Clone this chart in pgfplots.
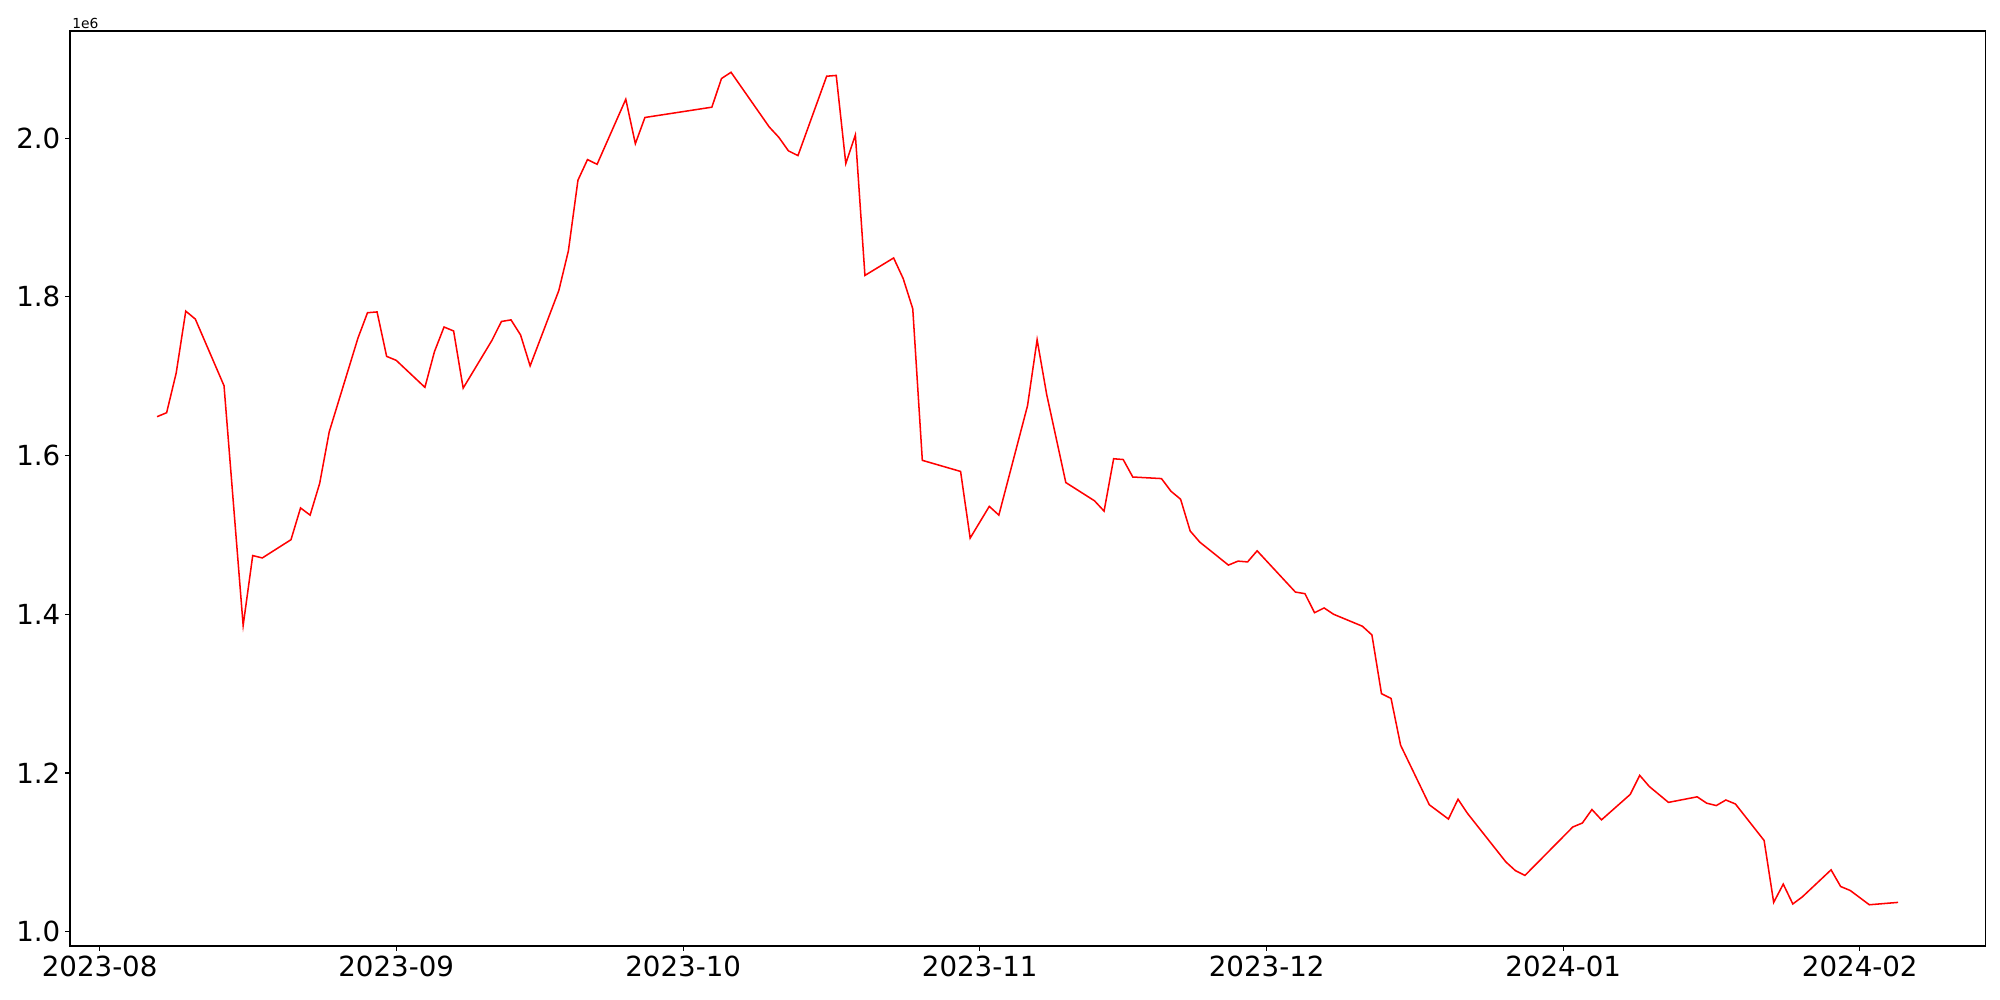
\documentclass[border=0pt]{standalone}
\usepackage{fontspec}
\setmainfont{DejaVu Sans}
\usepackage{pgfplots}
\pgfplotsset{compat=1.18}
\begin{document}
\begin{tikzpicture}
\begin{axis}[
  at={(0,0)}, anchor=south west,
  scale only axis,
  width=1384pt, height=661.3pt,
  xmin=-3.1, xmax=197.1,
  ymin=982000, ymax=2135000,
  axis line style={line width=0.8pt},
  tick align=outside,
  tick pos=left,
  major tick length=3.5pt,
  every tick/.style={line width=0.8pt, black},
  xtick={0,31,61,92,122,153,184},
  xticklabels={2023-08,2023-09,2023-10,2023-11,2023-12,2024-01,2024-02},
  ytick={1000000,1200000,1400000,1600000,1800000,2000000},
  scaled y ticks=base 10:-6,
  ytick scale label code/.code={1e6},
  every y tick scale label/.style={at={(rel axis cs:0,1)}, anchor=south west, inner sep=1.5pt, font=\fontsize{10}{12}\selectfont},
  yticklabel style={/pgf/number format/fixed, /pgf/number format/precision=1, /pgf/number format/fixed zerofill},
  /pgf/number format/assume math mode=true,
  tick label style={font=\fontsize{20}{24}\selectfont},
]
\addplot[red, line width=1.1pt, mark=none] table {
d v
6 1649000
7 1654000
8 1704000
9 1782000
10 1772000
13 1688000
15 1386000
16 1474000
17 1471000
20 1494000
21 1534000
22 1525000
23 1565000
24 1630000
27 1748000
28 1780000
29 1781000
30 1725000
31 1720000
34 1686000
35 1731000
36 1762000
37 1757000
38 1685000
41 1745000
42 1769000
43 1771000
44 1752000
45 1713000
48 1808000
49 1858000
50 1947000
51 1973000
52 1967000
55 2049000
56 1993000
57 2026000
64 2039000
65 2075000
66 2083000
70 2014000
71 2001000
72 1984000
73 1978000
76 2078000
77 2079000
78 1968000
79 2004000
80 1827000
83 1849000
84 1823000
85 1785000
86 1594000
90 1580000
91 1496000
93 1536000
94 1525000
97 1663000
98 1746000
99 1677000
101 1566000
104 1543000
105 1530000
106 1596000
107 1595000
108 1573000
111 1571000
112 1555000
113 1545000
114 1505000
115 1491000
118 1462000
119 1467000
120 1466000
121 1480000
125 1428000
126 1426000
127 1402000
128 1408000
129 1400000
132 1385000
133 1374000
134 1300000
135 1294000
136 1235000
139 1160000
141 1142000
142 1167000
143 1149000
147 1088000
148 1077000
149 1071000
154 1132000
155 1137000
156 1154000
157 1141000
160 1173000
161 1197000
162 1183000
164 1163000
167 1170000
168 1162000
169 1159000
170 1166000
171 1161000
174 1115000
175 1037000
176 1060000
177 1035000
178 1044000
181 1078000
182 1057000
183 1052000
185 1034000
188 1037000
};
\end{axis}
\pgfresetboundingbox
\path (-50.6pt,-39pt) rectangle (1394.8pt,683.7pt);
\end{tikzpicture}
\end{document}
